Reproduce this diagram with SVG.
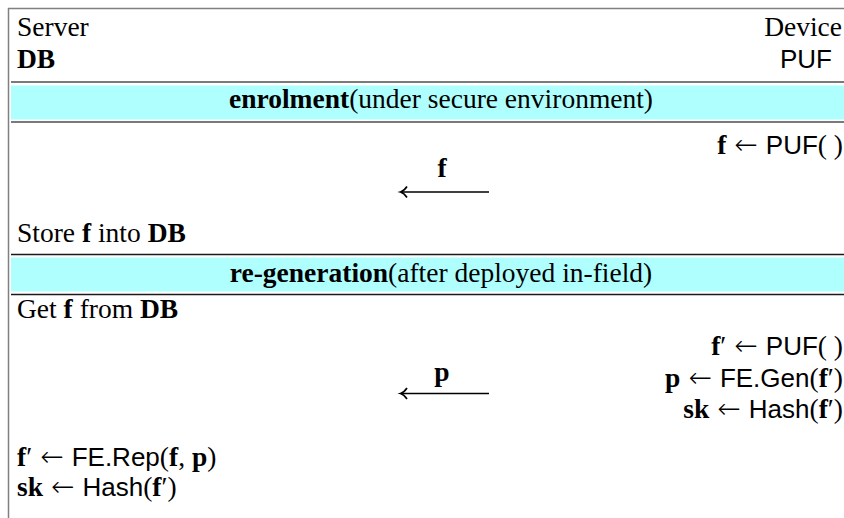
<svg xmlns="http://www.w3.org/2000/svg" width="844" height="518" viewBox="0 0 844 518">
  <style>
    text { font-family: "Liberation Serif", "Times New Roman", serif; font-size: 27.5px; fill: #000; }
    .b { font-weight: bold; }
    .sf { font-family: "Liberation Sans", Arial, sans-serif; font-size: 26px; }
    .ar { font-family: "DejaVu Sans", sans-serif; font-size: 28px; font-weight: 200; }
    .band { fill: #b0ffff; }
    .rule1 { stroke: #7a7a7a; stroke-width: 2; }
    .rule2 { stroke: #1a1a1a; stroke-width: 1.4; }
    .msg { stroke: #000; stroke-width: 1.7; fill: none; }
  </style>

  <!-- table frame -->
  <g id="frame">
    <line x1="8" y1="8.5" x2="844" y2="8.5" stroke="#808080" stroke-width="1.5"/>
    <line x1="8.5" y1="8" x2="8.5" y2="518" stroke="#808080" stroke-width="1.5"/>
  </g>

  <!-- column headers -->
  <g id="server-head">
    <text x="17" y="36">Server</text>
    <text x="17" y="68" class="b">DB</text>
  </g>
  <g id="device-head">
    <text x="842" y="36" text-anchor="end">Device</text>
    <text x="832" y="68" text-anchor="end" class="sf">PUF</text>
  </g>

  <!-- phase 1 band -->
  <g id="enrolment">
    <line class="rule1" x1="11" y1="82" x2="844" y2="82"/>
    <rect class="band" x="11" y="85.5" width="833" height="34"/>
    <line class="rule1" x1="11" y1="122" x2="844" y2="122"/>
    <text x="441" y="108" text-anchor="middle"><tspan class="b">enrolment</tspan>(under secure environment)</text>
  </g>

  <g id="dev-puf1">
    <text x="843" y="154" text-anchor="end"><tspan class="b">f</tspan><tspan class="ar" dx="8">←</tspan><tspan class="sf" dx="8">PUF</tspan>( )</text>
  </g>

  <g id="srv-store">
    <text x="17" y="242">Store <tspan class="b">f</tspan> into <tspan class="b">DB</tspan></text>
  </g>

  <!-- phase 2 band -->
  <g id="regeneration">
    <line class="rule2" x1="11" y1="254.5" x2="844" y2="254.5"/>
    <rect class="band" x="11" y="257.5" width="833" height="34"/>
    <line class="rule2" x1="11" y1="294.5" x2="844" y2="294.5"/>
    <text x="441" y="282" text-anchor="middle"><tspan class="b">re-generation</tspan>(after deployed in-field)</text>
  </g>

  <g id="srv-get">
    <text x="17" y="318">Get <tspan class="b">f</tspan> from <tspan class="b">DB</tspan></text>
  </g>

  <g id="dev-puf2">
    <text x="843" y="355" text-anchor="end"><tspan class="b">f</tspan>′<tspan class="ar" dx="8">←</tspan><tspan class="sf" dx="8">PUF</tspan>( )</text>
  </g>
  <g id="dev-gen">
    <text x="843" y="387" text-anchor="end"><tspan class="b">p</tspan><tspan class="ar" dx="8">←</tspan><tspan class="sf" dx="8">FE.Gen</tspan>(<tspan class="b">f</tspan>′)</text>
  </g>
  <g id="dev-hash">
    <text x="843" y="418" text-anchor="end"><tspan class="b">sk</tspan><tspan class="ar" dx="8">←</tspan><tspan class="sf" dx="8">Hash</tspan>(<tspan class="b">f</tspan>′)</text>
  </g>

  <g id="srv-rep">
    <text x="17" y="466"><tspan class="b">f</tspan>′<tspan class="ar" dx="8">←</tspan><tspan class="sf" dx="8">FE.Rep</tspan>(<tspan class="b">f</tspan>, <tspan class="b">p</tspan>)</text>
  </g>
  <g id="srv-hash">
    <text x="17" y="496"><tspan class="b">sk</tspan><tspan class="ar" dx="8">←</tspan><tspan class="sf" dx="8">Hash</tspan>(<tspan class="b">f</tspan>′)</text>
  </g>

  <!-- messages, device to server -->
  <g id="connectors">
    <path class="msg" d="M489 192 H401"/>
    <path class="msg" d="M407 186.5 Q404 191 400.5 192 Q404 193 407 197.5"/>
    <text x="442" y="177" text-anchor="middle" class="b">f</text>
    <path class="msg" d="M489 393.5 H401"/>
    <path class="msg" d="M407 388 Q404 392.5 400.5 393.5 Q404 394.5 407 399"/>
    <text x="442" y="381" text-anchor="middle" class="b">p</text>
  </g>
</svg>
